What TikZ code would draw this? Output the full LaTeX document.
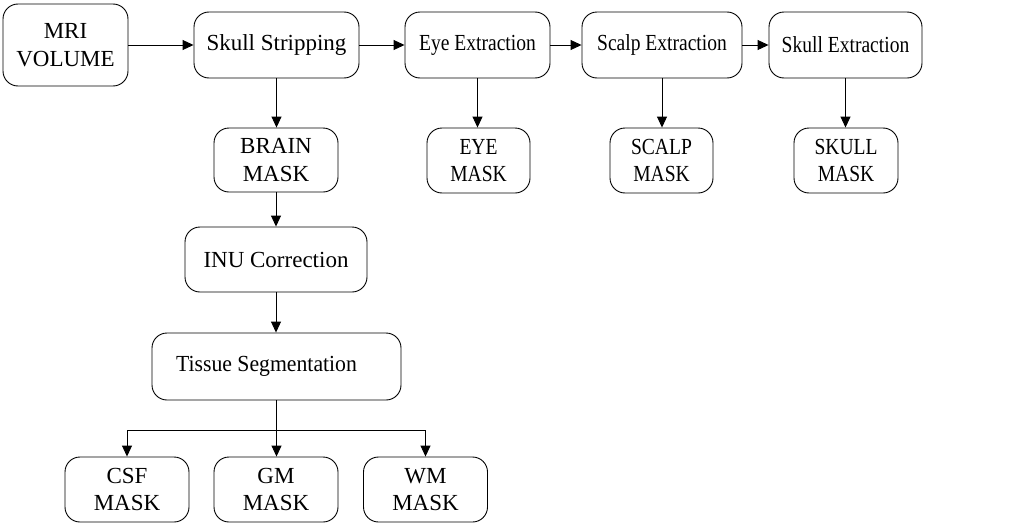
\documentclass[tikz,border=0pt]{standalone}
\usepackage{fontspec}
\setmainfont{Liberation Serif}
\usetikzlibrary{arrows.meta}
% horizontally condensed text
\newcommand{\cond}[2][0.85]{\scalebox{#1}[1]{#2}}
\begin{document}
\begin{tikzpicture}[x=1pt,y=-1pt,
  box/.style={draw, line width=0.9pt, rounded corners=15pt, align=center,
    inner sep=0pt, font=\fontsize{23}{27.5}\selectfont},
  arrow/.style={line width=0.9pt, -{Triangle[length=11pt,width=10pt]}}]
\useasboundingbox (0,0) rectangle (1024,522);
% processing chain
\node[box, minimum width=125, minimum height=82] (mri) at (65.5,45) {MRI\\VOLUME};
\node[box, minimum width=165, minimum height=66] (ss) at (276.5,45) {Skull Stripping};
\node[box, minimum width=145, minimum height=66] (ee) at (477.5,45) {\cond{Eye Extraction}};
\node[box, minimum width=160, minimum height=66] (se) at (662,45) {\cond{Scalp Extraction}};
\node[box, minimum width=153, minimum height=66] (ke) at (845.5,45) {\cond{Skull Extraction}};
% output masks
\node[box, minimum width=124, minimum height=64] (brain) at (276,160) {BRAIN\\MASK};
\node[box, minimum width=103, minimum height=65] (eye) at (478.5,160.5) {\cond{EYE}\\\cond{MASK}};
\node[box, minimum width=103, minimum height=65] (scalp) at (661.5,160.5) {\cond{SCALP}\\\cond{MASK}};
\node[box, minimum width=104, minimum height=65] (skull) at (846,160.5) {\cond{SKULL}\\\cond{MASK}};
% brain branch
\node[box, minimum width=182, minimum height=65] (inu) at (276,259.5) {INU Correction};
\node[box, minimum width=249, minimum height=67] (ts) at (276.5,366.5) {\cond[0.945]{Tissue Segmentation}\hspace{20pt}};
\node[box, minimum width=124, minimum height=65] (csf) at (127,489.5) {CSF\\MASK};
\node[box, minimum width=124, minimum height=65] (gm) at (276,489.5) {GM\\MASK};
\node[box, minimum width=124, minimum height=65] (wm) at (425.5,489.5) {WM\\MASK};
\coordinate (split) at (276.5,430);
% connectors
\draw[arrow] (mri) -- (ss);
\draw[arrow] (ss) -- (ee);
\draw[arrow] (ee) -- (se);
\draw[arrow] (se) -- (ke);
\draw[arrow] (ss.south) -- (ss.south |- brain.north);
\draw[arrow] (ee.south) -- (ee.south |- eye.north);
\draw[arrow] (se.south) -- (se.south |- scalp.north);
\draw[arrow] (ke.south) -- (ke.south |- skull.north);
\draw[arrow] (brain.south) -- (brain.south |- inu.north);
\draw[arrow] (inu.south) -- (inu.south |- ts.north);
\draw[line width=0.9pt] (ts.south) -- (split);
\draw[arrow] (split) -- (split |- gm.north);
\draw[arrow] (split) -| (csf.north);
\draw[arrow] (split) -| (wm.north);
\end{tikzpicture}
\end{document}
